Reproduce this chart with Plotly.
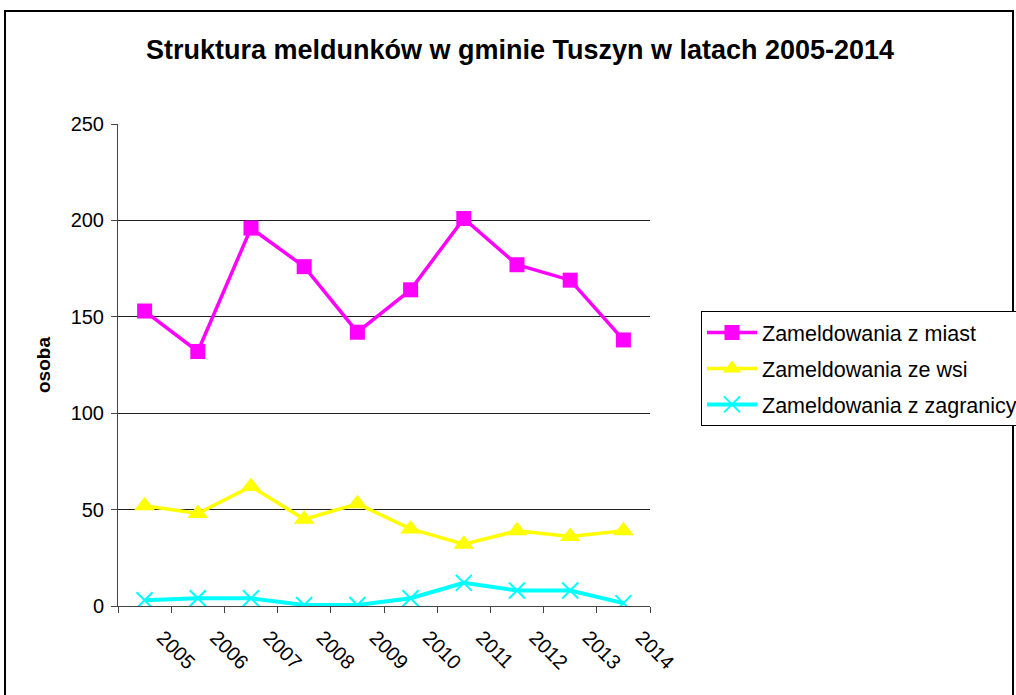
import plotly.graph_objects as go

years = ["2005", "2006", "2007", "2008", "2009", "2010", "2011", "2012", "2013", "2014"]
miasta = [153, 132, 196, 176, 142, 164, 201, 177, 169, 138]
wsie = [52, 48, 62, 45, 53, 40, 32, 39, 36, 39]
zagranica = [3, 4, 4, 0.5, 0.5, 4, 12, 8, 8, 1.5]

FONT = "Arial, Liberation Sans, sans-serif"

fig = go.Figure()
fig.add_trace(go.Scatter(
    x=years, y=miasta, name="Zameldowania z miast", mode="lines+markers",
    legendgroup="a",
    line=dict(color="#FF00FF", width=3.5),
    marker=dict(symbol="square", size=15, color="#FF00FF"),
))
fig.add_trace(go.Scatter(
    x=years, y=wsie, name="Zameldowania ze wsi", mode="lines+markers",
    legendgroup="b",
    line=dict(color="#FFFF00", width=3.5),
    marker=dict(symbol="triangle-up", size=18, color="#FFFF00"),
))
fig.add_trace(go.Scatter(
    x=years, y=zagranica, name="Zameldowania z zagranicy", mode="lines+markers",
    legendgroup="c",
    line=dict(color="#00FFFF", width=4),
    marker=dict(symbol="x-thin", size=16, color="#00FFFF",
                line=dict(color="#00FFFF", width=2)),
))

fig.update_layout(
    width=1016, height=695,
    margin=dict(l=118, r=366, t=124, b=89),
    paper_bgcolor="white", plot_bgcolor="white",
    font=dict(family=FONT, color="black", size=20),
    title=dict(text="<b>Struktura meldunków w gminie Tuszyn w latach 2005-2014</b>",
               x=520 / 1016, xanchor="center", y=1 - 50 / 695, yanchor="middle",
               font=dict(size=27, family=FONT)),
    showlegend=True,
    legend=dict(xref="container", yref="container",
                x=701 / 1016, y=1 - 311 / 695, xanchor="left", yanchor="top",
                bordercolor="black", borderwidth=1, bgcolor="white",
                font=dict(size=21.5, family=FONT), tracegroupgap=5,
                traceorder="grouped", itemwidth=50),
    xaxis=dict(type="category", range=[-0.5, 9.5], tickson="boundaries",
               ticks="outside", ticklen=6, tickcolor="#444", showline=True,
               linecolor="#444", linewidth=1, showgrid=False, tickangle=45,
               ticklabelstandoff=11, ticklabelshift=18,
               tickfont=dict(size=20, family=FONT)),
    yaxis=dict(range=[0, 250], dtick=50, ticks="outside", ticklen=6,
               tickcolor="#444", showline=True, linecolor="#444", linewidth=1,
               showgrid=True, gridcolor="#222", gridwidth=1, zeroline=False,
               ticklabelstandoff=3,
               tickfont=dict(size=20, family=FONT),
               title=dict(text="<b>osoba</b>", font=dict(size=19, family=FONT),
                          standoff=14)),
    shapes=[dict(type="rect", xref="paper", yref="paper",
                 x0=(5 - 118) / 532, x1=(1013 - 118) / 532,
                 y0=(606 - 720) / 482, y1=(606 - 11) / 482,
                 line=dict(color="black", width=2), layer="below")],
)

fig.write_html("out.html", config={"displayModeBar": False},
               post_script="document.body.style.margin='0';")
